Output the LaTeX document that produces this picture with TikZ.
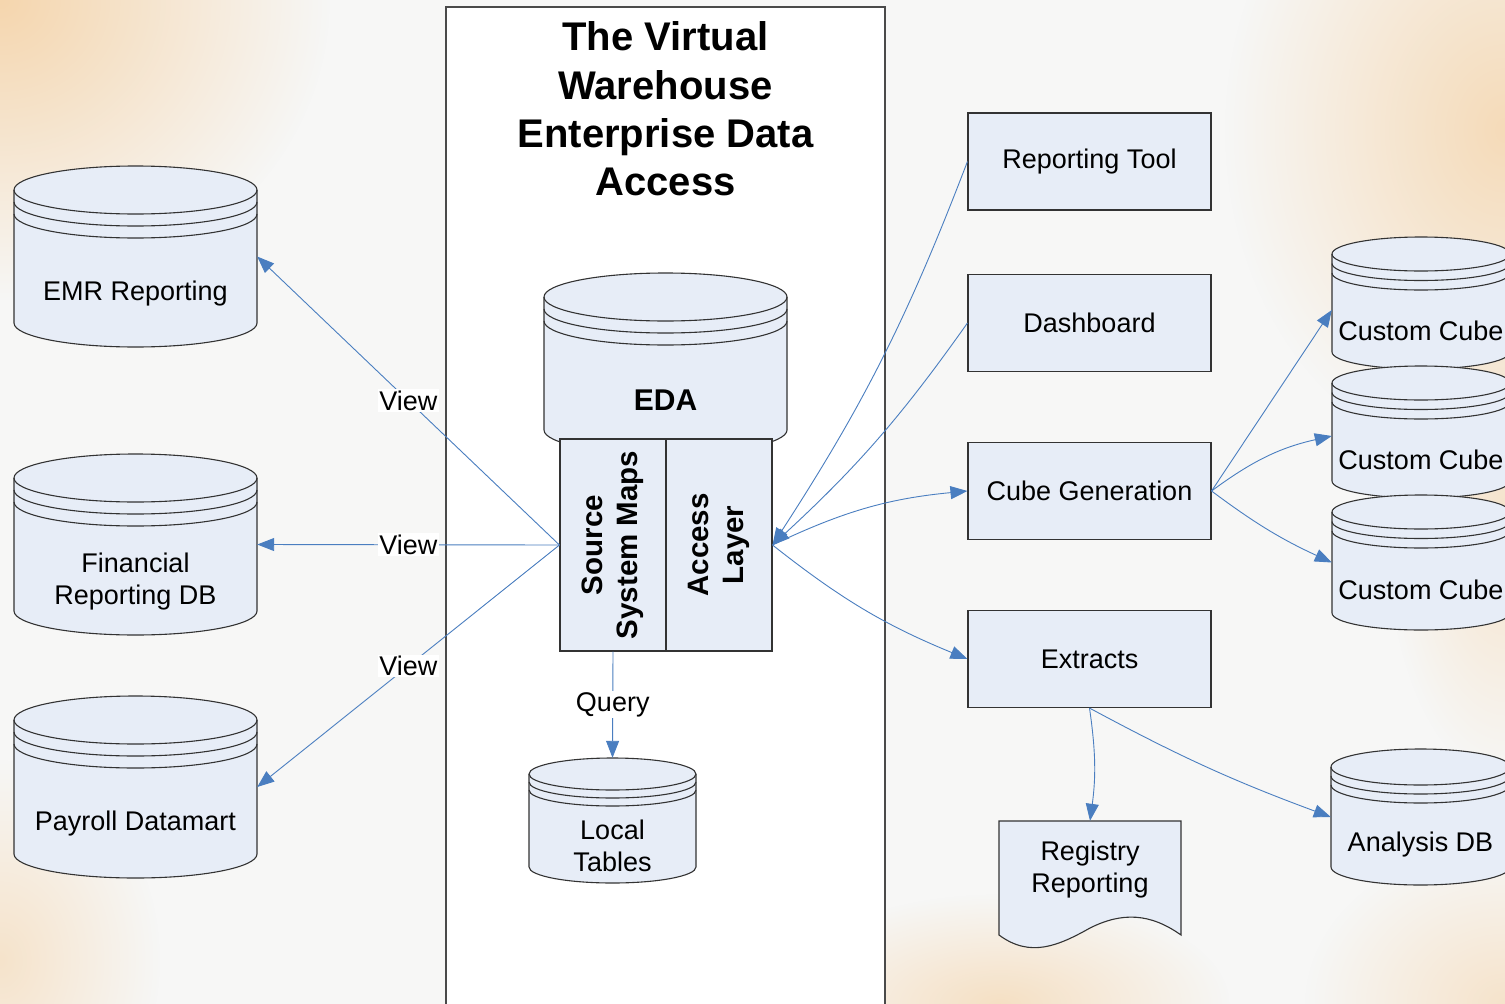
\documentclass[tikz,border=0pt]{standalone}
\usepackage{fontspec}
\setmainfont{Liberation Sans}
\usetikzlibrary{arrows.meta,fadings}

\definecolor{pagebg}{HTML}{F7F7F6}
\definecolor{peach}{HTML}{F5D6AE}
\definecolor{boxfill}{HTML}{E7EDF7}
\definecolor{linkblue}{HTML}{4A7EC0}
\definecolor{edge}{HTML}{333333}
\definecolor{paneledge}{HTML}{4A4A4A}

\tikzfading[name=softspot, inner color=transparent!0, outer color=transparent!100]

\tikzset{
  stdfont/.style={font=\fontsize{27}{32}\selectfont},
  box/.style={draw=edge, fill=boxfill, line width=1.1pt, minimum width=243pt,
    minimum height=97pt, inner sep=0pt, align=center, stdfont},
  drum/.style={draw=edge, fill=boxfill, line width=1.1pt},
  drumline/.style={draw=edge, line width=1.1pt},
  anchorbox/.style={draw=none, fill=none, inner sep=0pt},
  drumtext/.style={inner sep=0pt, align=center, stdfont},
  mapbox/.style={draw=edge, fill=boxfill, line width=1.1pt, minimum width=106pt,
    minimum height=212pt, inner sep=0pt},
  maptext/.style={inner sep=0pt, align=center, rotate=90,
    font=\fontsize{29.5}{35}\selectfont\bfseries},
  link/.style={draw=linkblue, line width=0.9pt, -{Triangle[length=17pt,width=13pt]}},
  tag/.style={fill=white, inner sep=1.5pt, stdfont},
}

% database drum: name, left x, right x, top y, bottom y, rim radius, band gap, text
\newcommand\drumshape[8]{%
  \pgfmathsetmacro\dcx{(#2+#3)/2}%
  \pgfmathsetmacro\drx{(#3-#2)/2}%
  \pgfmathsetmacro\dw{#3-#2}%
  \pgfmathsetmacro\dh{#5-#4}%
  \pgfmathsetmacro\dcy{(#4+#5)/2}%
  \pgfmathsetmacro\dyt{#4+#6}%
  \pgfmathsetmacro\dyb{#5-#6}%
  \pgfmathsetmacro\dya{\dyt+#7}%
  \pgfmathsetmacro\dyc{\dyt+2*#7}%
  \pgfmathsetmacro\dym{(\dyc+#6+#5)/2+1}%
  \path[drum] (#2,\dyt) -- (#2,\dyb)
    arc[start angle=180,end angle=360,x radius=\drx pt,y radius=#6pt]
    -- (#3,\dyt)
    arc[start angle=0,end angle=180,x radius=\drx pt,y radius=#6pt] -- cycle;
  \draw[drumline]
    (#2,\dyt) arc[start angle=180,end angle=360,x radius=\drx pt,y radius=#6pt]
    (#2,\dya) arc[start angle=180,end angle=360,x radius=\drx pt,y radius=#6pt]
    (#2,\dyc) arc[start angle=180,end angle=360,x radius=\drx pt,y radius=#6pt];
  \node[anchorbox, minimum width=\dw pt, minimum height=\dh pt] (#1) at (\dcx,\dcy) {};
  \node[drumtext] (#1-t) at (\dcx,\dym) {#8};
}

\begin{document}
\begin{tikzpicture}[x=1pt,y=-1pt]
\useasboundingbox (0,0) rectangle (1505,1004);
\clip (0,0) rectangle (1505,1004);

% page background with warm patches
\fill[pagebg] (0,0) rectangle (1505,1004);
\fill[peach, path fading=softspot] (0,0) ellipse [x radius=330pt, y radius=300pt];
\fill[peach, path fading=softspot, opacity=0.85] (1505,130) ellipse [x radius=280pt, y radius=340pt];
\fill[peach, path fading=softspot, opacity=0.6] (1505,520) ellipse [x radius=120pt, y radius=260pt];
\fill[peach, path fading=softspot, opacity=0.6] (0,960) ellipse [x radius=160pt, y radius=200pt];
\fill[peach, path fading=softspot, opacity=0.7] (1000,1004) ellipse [x radius=230pt, y radius=110pt];
\fill[peach, path fading=softspot, opacity=0.6] (1505,1004) ellipse [x radius=200pt, y radius=160pt];

% central panel
\node[draw=paneledge, fill=white, line width=1.1pt, minimum width=439pt,
  minimum height=1010pt, inner sep=0pt] (panel) at (665.5,512) {};
\node[align=center, inner sep=0pt, font=\fontsize{40}{48.3}\selectfont\bfseries]
  (title) at (665.5,109) {The Virtual\\Warehouse\\Enterprise Data\\Access};

% source databases
\drumshape{emr}{14}{257}{166}{347}{24}{12}{EMR Reporting}
\drumshape{fin}{14}{257}{454}{635}{24}{12}{Financial\\Reporting DB}
\drumshape{pay}{14}{257}{696}{878}{24}{12}{Payroll Datamart}

% EDA core with its maps and access layer
\drumshape{eda}{544}{787}{273}{454}{24}{12}{\fontsize{30}{36}\selectfont\bfseries EDA}
\node[mapbox] (ssm) at (613,545) {};
\node[mapbox] (acc) at (719,545) {};
\node[maptext] (ssm-t) at (613,545) {Source\\System Maps};
\node[maptext] (acc-t) at (719,545) {Access\\Layer};

\drumshape{loc}{529}{696}{758}{883}{16}{8}{Local\\Tables}

% consumers
\node[box] (rt) at (1089.5,161.5) {Reporting Tool};
\node[box] (dash) at (1089.5,323) {Dashboard};
\node[box] (cg) at (1089.5,491) {Cube Generation};
\node[box] (ext) at (1089.5,659) {Extracts};

\drumshape{cc1}{1332}{1510}{237}{369}{17}{9.5}{Custom Cube}
\drumshape{cc2}{1332}{1510}{366}{498}{17}{9.5}{Custom Cube}
\drumshape{cc3}{1332}{1510}{495}{630}{17}{9.5}{Custom Cube}
\drumshape{adb}{1331}{1510}{749}{885}{18}{9}{Analysis DB}

% printed report
\path[drum] (999,821) -- (1181,821) -- (1181,935)
  .. controls (1150,913) and (1122,912) .. (1090,928)
  .. controls (1058,946) and (1030,958) .. (999,935) -- cycle;
\node[anchorbox, minimum width=182pt, minimum height=114pt] (reg) at (1090,878) {};
\node[drumtext] (reg-t) at (1090,870) {Registry\\Reporting};

% connectors
\draw[link] (ssm.west) -- node[tag] (v1) {View} (emr.east);
\draw[link] (ssm.west) -- node[tag] (v2) {View} (fin.east);
\draw[link] (ssm.west) -- node[tag] (v3) {View} (pay.east);
\draw[link] (ssm.south) -- node[tag] (q) {Query} (loc.north);

\draw[link] (rt.west) to[bend left=6] (acc.east);
\draw[link] (dash.west) to[bend left=6] (acc.east);
\draw[link] (acc.east) to[bend left=10] (cg.west);
\draw[link] (acc.east) to[bend right=8] (ext.west);

\draw[link] (cg.east) -- ([yshift=-7pt]cc1.west);
\draw[link] (cg.east) to[bend left=12] ([yshift=-4pt]cc2.west);
\draw[link] (cg.east) to[bend right=6] (cc3.west);

\draw[link] (ext.south) to[bend left=8] (reg.north);
\draw[link] (ext.south) to[bend right=4] (adb.west);
\end{tikzpicture}
\end{document}
